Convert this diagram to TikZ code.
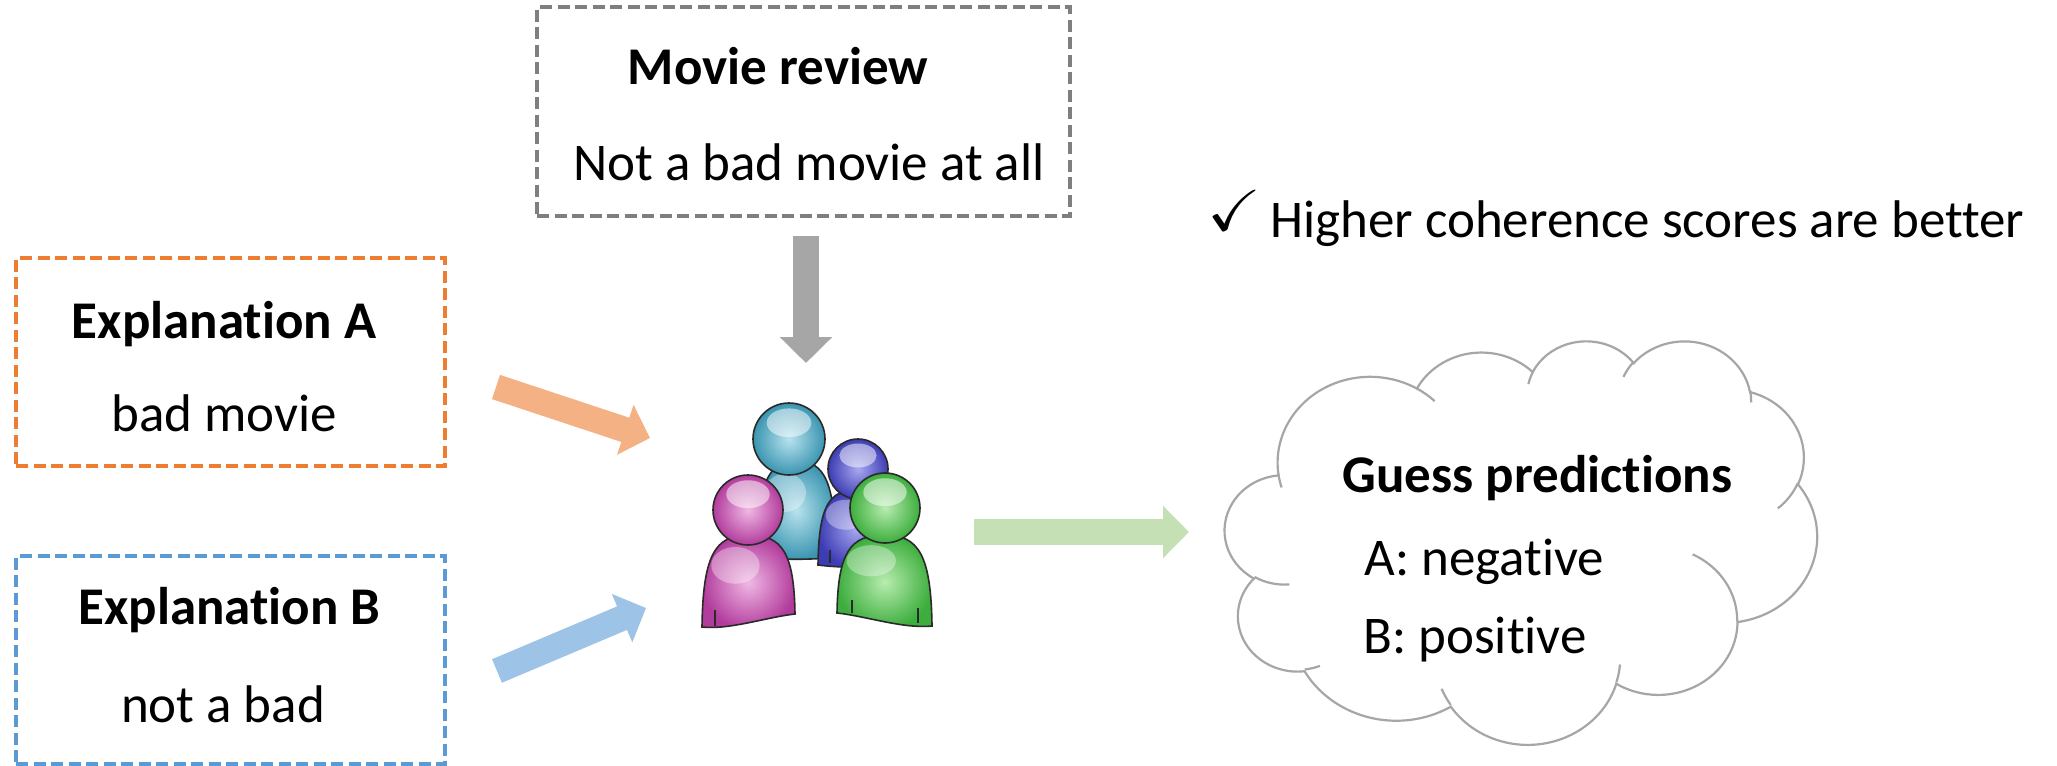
\documentclass[tikz,border=0pt]{standalone}
\usepackage{fontspec}
\setmainfont{Carlito}[Ligatures=NoCommon]
\usepackage{amssymb}
\usepackage{graphicx}
\usetikzlibrary{arrows.meta}

\definecolor{boxorange}{HTML}{ED7D31}
\definecolor{boxblue}{HTML}{5B9BD5}
\definecolor{boxgray}{HTML}{7F7F7F}
\definecolor{arrorange}{HTML}{F4B183}
\definecolor{arrblue}{HTML}{9DC3E6}
\definecolor{arrgreen}{HTML}{C5E0B4}
\definecolor{arrgray}{HTML}{A6A6A6}
\definecolor{cloudgray}{HTML}{A6A6A6}
\definecolor{iconline}{HTML}{2A2A2A}
\definecolor{tealbase}{HTML}{3A95B0}
\definecolor{teallight}{HTML}{B8E2EE}
\definecolor{bluebase}{HTML}{3C3CB4}
\definecolor{bluelight}{HTML}{A8A8F0}
\definecolor{magbase}{HTML}{B23C9C}
\definecolor{maglight}{HTML}{F0B8E4}
\definecolor{grnbase}{HTML}{3DAE3D}
\definecolor{grnlight}{HTML}{B8ECB0}

% cloud path units (43200 x 43200 frame) in pt
\newcommand\cldux{0.0068519}
\newcommand\cldvy{0.0046759}
% elliptic arc given by radii and start/sweep angles of a ray from the centre
\newcommand\cloudarc[4]{%
  \pgfmathsetmacro\cldS{-atan2(#1*sin(#3),#2*cos(#3))}%
  \pgfmathsetmacro\cldE{-atan2(#1*sin(#3+#4),#2*cos(#3+#4))}%
  \pgfmathsetmacro\cldD{-mod(\cldS-\cldE+720,360)}%
  \pgfmathsetmacro\cldRx{#1*\cldux}%
  \pgfmathsetmacro\cldRy{#2*\cldvy}%
}
\newcommand\carc{arc[start angle=\cldS, delta angle=\cldD, x radius=\cldRx pt, y radius=\cldRy pt]}

% one user figure of the group icon: body L,R,T,BL,BR; head cx,cy,r; colour prefix
\newcommand\userfig[9]{%
  \path[draw=iconline, line width=0.8pt, shade, inner color=#9light, outer color=#9base]
    (#1,#4) .. controls ({#1+0.01*(#2-#1)},{#3+0.22*(#4-#3)}) and ({#1+0.14*(#2-#1)},#3) .. ({(#1+#2)/2},#3)
    .. controls ({#2-0.14*(#2-#1)},#3) and ({#2-0.01*(#2-#1)},{#3+0.22*(#5-#3)}) .. (#2,#5)
    .. controls ({#2-0.3*(#2-#1)},{#5+3}) and ({#1+0.3*(#2-#1)},{#4+3}) .. cycle;
  \fill[white, opacity=0.35] ({#1+0.36*(#2-#1)},{#3+0.33*(#4-#3)}) ellipse[x radius={0.13*(#2-#1)*1pt}, y radius={0.1*(#4-#3)*1pt}];
  \shade[inner color=#9light, outer color=#9base] (#6,#7) circle[radius={#8*0.5pt}];
  \fill[white, opacity=0.5] (#6,{#7-0.45*#8}) ellipse[x radius={0.31*#8*1pt}, y radius={0.2*#8*1pt}];
  \draw[iconline, line width=0.8pt] (#6,#7) circle[radius={#8*0.5pt}];
}

\begin{document}
\begin{tikzpicture}[x=0.5pt,y=-0.5pt,
  txt/.style={inner sep=0pt, font=\fontsize{26.5}{32}\selectfont},
  boldtxt/.style={inner sep=0pt, font=\fontsize{26.5}{32}\selectfont\bfseries},
  dbox/.style={draw, line width=1.6pt, dash pattern=on 6pt off 2.75pt, inner sep=0pt,
    minimum width=214.5pt, minimum height=104pt},
  blockarrow/.style={line width=12.75pt, -{Triangle[length=13pt 0 0, width=25.5pt 0 0]}},
  cloudline/.style={draw=cloudgray, line width=1.1pt},
  crease/.style={iconline, line width=0.7pt}
]
\fill[white] (0,0) rectangle (2057,766);
\useasboundingbox (0,0) rectangle (2057,766);

% input boxes
\node[dbox, draw=boxgray, minimum width=266.5pt, minimum height=104.5pt] (review) at (803.5,111.5) {};
\node[dbox, draw=boxorange] (expA) at (230.5,362) {};
\node[dbox, draw=boxblue] (expB) at (230.5,660) {};

\node[boldtxt, anchor=base] (reviewtitle) at (778,84) {Movie review};
\node[txt, anchor=base] (reviewtext) at (809,180) {Not a bad movie at all};
\node[boldtxt, anchor=base] (expAtitle) at (224,338) {Explanation A};
\node[txt, anchor=base] (expAtext) at (224,431) {bad movie};
\node[boldtxt, anchor=base] (expBtitle) at (229.5,624) {Explanation B};
\node[txt, anchor=base] (expBtext) at (223,722) {not a bad};

% note at top right
\node[inner sep=0pt, anchor=south west] (tick) at (1207,231) {\resizebox{27pt}{20pt}{$\checkmark$}};
\node[txt, anchor=base west] (note) at (1270,237) {Higher coherence scores are better};

% group of users
\userfig{757}{836}{461}{557}{557}{789}{439}{36}{teal}
\userfig{818}{895}{490}{565}{565}{858}{469}{30}{blue}
\draw[crease] (830,550) -- (830,563);
\userfig{702}{795}{535}{627}{614}{748}{510}{35}{mag}
\draw[crease] (715,610) -- (715,626);
\userfig{837}{932}{535}{613}{626}{885}{508}{35}{grn}
\draw[crease] (852,600) -- (852,613);
\draw[crease] (918,608) -- (918,623);

% block arrows
\coordinate (g1) at (806,236);  \coordinate (g2) at (806,363);
\coordinate (o1) at (496,387);  \coordinate (o2) at (650,438);
\coordinate (b1) at (497,671);  \coordinate (b2) at (646,608);
\coordinate (n1) at (974,532);  \coordinate (n2) at (1189,532);
\draw[blockarrow, arrgray] (g1) -- (g2);
\draw[blockarrow, arrorange] (o1) -- (o2);
\draw[blockarrow, arrblue] (b1) -- (b2);
\draw[blockarrow, arrgreen] (n1) -- (n2);

% thought cloud
\begin{scope}[shift={(1225,340)}, x=0.0068519pt, y=-0.0046759pt]
\draw[cloudline, fill=white] (3900,14370)
  \pgfextra{\cloudarc{6753}{9190}{-190.48748}{123.78053}} \carc
  \pgfextra{\cloudarc{5333}{7267}{-144.10238}{89.94523}} \carc
  \pgfextra{\cloudarc{4365}{5945}{-145.80792}{99.72302}} \carc
  \pgfextra{\cloudarc{4857}{6595}{-130.98607}{117.24173}} \carc
  \pgfextra{\cloudarc{5333}{7273}{-78.70888}{109.02692}} \carc
  \pgfextra{\cloudarc{6775}{9220}{-46.26725}{130.269}} \carc
  \pgfextra{\cloudarc{5785}{7867}{0.62502}{114.03333}} \carc
  \pgfextra{\cloudarc{6752}{9215}{22.4516}{115.17255}} \carc
  \pgfextra{\cloudarc{7720}{10543}{66.24263}{75.71102}} \carc
  \pgfextra{\cloudarc{4360}{5918}{-274.94208}{146.73557}} \carc
  \pgfextra{\cloudarc{4345}{5945}{-246.8285}{152.51885}} \carc
  -- cycle;
\draw[cloudline] (4693,26177) \pgfextra{\cloudarc{4345}{5945}{86.742}{26.4295}} \carc;
\draw[cloudline] (6928,34899) \pgfextra{\cloudarc{4360}{5918}{73.61047}{11.44747}} \carc;
\draw[cloudline] (16478,39090) \pgfextra{\cloudarc{6752}{9215}{137.62415}{14.0811}} \carc;
\draw[cloudline] (28827,34751) \pgfextra{\cloudarc{6752}{9215}{6.45327}{15.99835}} \carc;
\draw[cloudline] (34129,22954) \pgfextra{\cloudarc{5785}{7867}{-70.29235}{70.91737}} \carc;
\draw[cloudline] (41798,15354) \pgfextra{\cloudarc{5333}{7273}{30.31803}{27.7515}} \carc;
\draw[cloudline] (38324,5426) \pgfextra{\cloudarc{4857}{6595}{-13.74433}{14.8589}} \carc;
\draw[cloudline] (29078,3952) \pgfextra{\cloudarc{4857}{6595}{-149.18145}{18.19537}} \carc;
\draw[cloudline] (22141,4720) \pgfextra{\cloudarc{4365}{5945}{-163.49427}{17.68635}} \carc;
\draw[cloudline] (14000,5192) \pgfextra{\cloudarc{6753}{9190}{-66.70695}{12.31935}} \carc;
\draw[cloudline] (4127,15789) \pgfextra{\cloudarc{6753}{9190}{157.65435}{11.85817}} \carc;
\end{scope}

\node[boldtxt, anchor=base] (guess) at (1537.5,492) {Guess predictions};
\node[txt, anchor=base west] (guessA) at (1364,575) {A: negative};
\node[txt, anchor=base west] (guessB) at (1363,653) {B: positive};
\end{tikzpicture}
\end{document}
